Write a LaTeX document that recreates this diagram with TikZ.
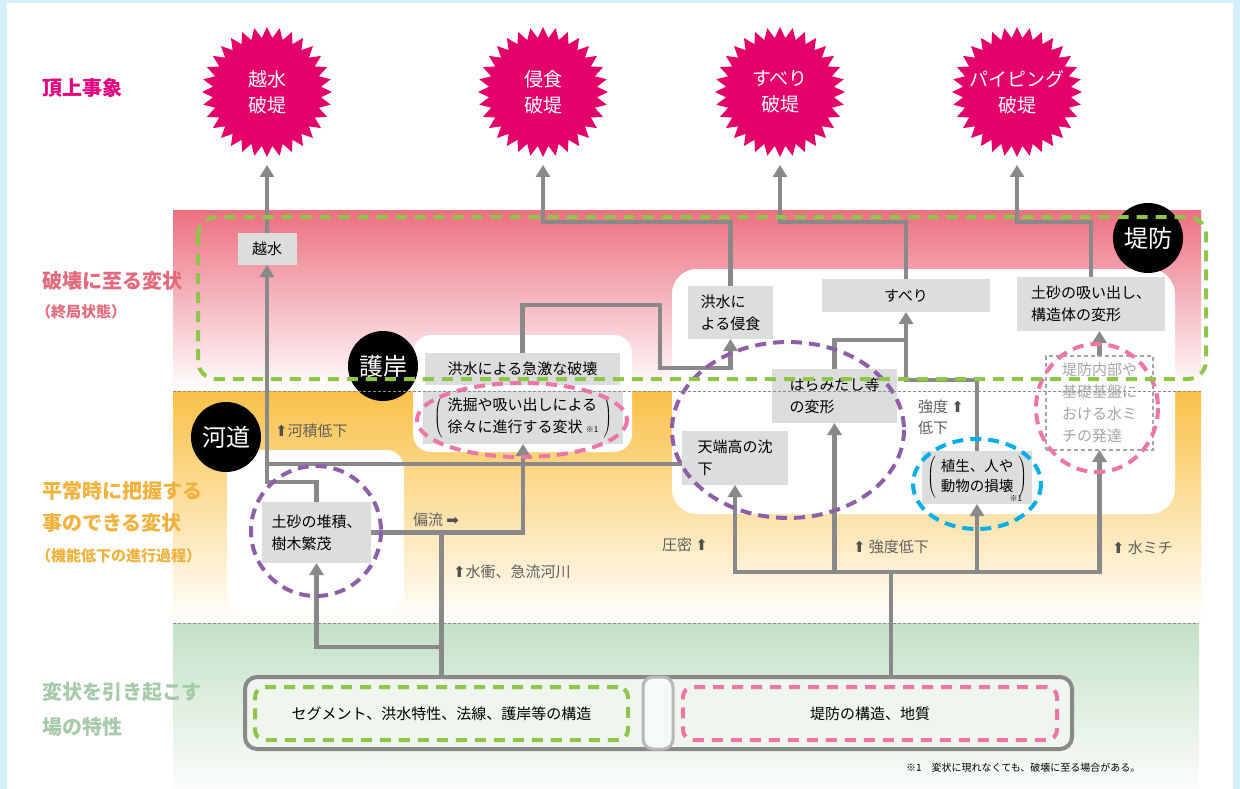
\documentclass[tikz,border=0pt]{standalone}
\usepackage{fontspec}
\setmainfont{Noto Sans CJK JP}
\newfontfamily\symf{DejaVu Sans}
\usetikzlibrary{arrows.meta,shapes.geometric,calc}
\definecolor{bgblue}{RGB}{214,237,250}
\definecolor{starmag}{RGB}{228,0,107}
\definecolor{bandpink}{RGB}{236,112,128}
\definecolor{bandorange}{RGB}{249,193,72}
\definecolor{bandgreen}{RGB}{196,225,199}
\definecolor{boxgray}{RGB}{220,221,221}
\definecolor{conngray}{RGB}{137,137,137}
\definecolor{labgray}{RGB}{95,95,95}
\definecolor{arrgray}{RGB}{80,80,80}
\definecolor{dgreen}{RGB}{141,198,72}
\definecolor{dpink}{RGB}{237,118,166}
\definecolor{dpurple}{RGB}{142,95,168}
\definecolor{dblue}{RGB}{0,174,232}
\definecolor{ttop}{RGB}{228,0,127}
\definecolor{tpink}{RGB}{226,106,124}
\definecolor{torange}{RGB}{240,178,60}
\definecolor{tgreen}{RGB}{166,202,170}
\definecolor{basefill}{RGB}{238,246,238}
\definecolor{mizugray}{RGB}{165,165,165}
\definecolor{midgray}{RGB}{184,184,184}
\definecolor{sepgray}{RGB}{140,140,140}
\newcommand{\myparen}[1]{$\left(\hspace{5pt}\vcenter{\hbox{\begin{tabular}{@{}l@{}}#1\end{tabular}}}\hspace{5pt}\right)$}
\newcommand{\uparr}{{\symf\color{arrgray}⬆}}
\newcommand{\rtarr}{{\symf\color{arrgray}➡}}
\pgfdeclarelayer{bg}
\pgfdeclarelayer{lines}
\pgfsetlayers{bg,lines,main}
\begin{document}
\begin{tikzpicture}[x=1pt,y=-1pt,
  every node/.style={inner sep=0pt, outer sep=0pt},
  boom/.style={star, star points=32, star point ratio=1.2, minimum size=130pt, fill=starmag},
  boomtext/.style={text=white, font=\fontsize{19}{26}\selectfont, align=center},
  gbox/.style={fill=boxgray, font=\fontsize{15}{22}\selectfont, align=left, text=black},
  badge/.style={circle, fill=black, minimum size=70pt, text=white, font=\fontsize{24}{24}\selectfont},
  conn/.style={draw=conngray, line width=4.5pt},
  arr/.style={-{Triangle[width=14pt,length=12pt]}},
  lab/.style={text=labgray, font=\fontsize{15}{21}\selectfont, anchor=west, align=left},
  sidelab/.style={font=\fontsize{20}{24}\selectfont\bfseries, anchor=west},
  sidesmall/.style={font=\fontsize{15}{20}\selectfont\bfseries, anchor=west},
  dashring/.style={line width=4pt, dash pattern=on 11pt off 7pt},
]
\useasboundingbox (0,0) rectangle (1240,789);
\begin{pgfonlayer}{bg}
\fill[bgblue] (0,0) rectangle (1240,789);
\fill[white] (7,3) rectangle (1233,789);
\shade[top color=bandpink, bottom color=white] (173,210) rectangle (1201,391);
\shade[top color=bandorange, bottom color=white] (173,391) rectangle (1201,623);
\shade[top color=bandgreen, bottom color=white!92!bandgreen] (173,623) rectangle (1199,789);
\fill[white, rounded corners=18pt] (227,450) rectangle (404,610);
\fill[white, rounded corners=18pt] (413,335) rectangle (632,452);
\fill[white, rounded corners=25pt] (672,269) rectangle (1175,514);
\end{pgfonlayer}

% left labels
\node[sidelab, text=ttop] (t1) at (42,88) {頂上事象};
\node[sidelab, text=tpink] (t2) at (42,281) {破壊に至る変状};
\node[sidesmall, text=tpink] (t2b) at (36,312) {（終局状態）};
\node[sidelab, text=torange] (t3) at (42,491) {平常時に把握する};
\node[sidelab, text=torange] (t3b) at (42,523) {事のできる変状};
\node[sidesmall, text=torange] (t3c) at (36,556) {（機能低下の進行過程）};
\node[sidelab, text=tgreen] (t4) at (42,692) {変状を引き起こす};
\node[sidelab, text=tgreen] (t4b) at (42,727) {場の特性};

% stars
\node[boom] (s1) at (267,92) {};
\node[boom] (s2) at (543,92) {};
\node[boom] (s3) at (780,92) {};
\node[boom] (s4) at (1017,92) {};
\node[boomtext] (s1t) at (s1.center) {越水\\破堤};
\node[boomtext] (s2t) at (s2.center) {侵食\\破堤};
\node[boomtext] (s3t) at (s3.center) {すべり\\破堤};
\node[boomtext] (s4t) at (s4.center) {パイピング\\破堤};

% boxes
\node[gbox, minimum width=59pt, minimum height=32pt] (ets) at (267,249) {越水};
\node[gbox, minimum width=195pt, minimum height=32pt] (kyu) at (522.5,369) {洪水による急激な破壊};
\node[gbox, minimum width=200pt, minimum height=53pt] (sen) at (523,417.5) {\myparen{洗掘や吸い出しによる\\徐々に進行する変状 {\fontsize{8}{8}\selectfont ※1}}};
\node[gbox, minimum width=109pt, minimum height=61pt] (dosha) at (316.5,532.5) {土砂の堆積、\\樹木繁茂};
\node[gbox, minimum width=85pt, minimum height=53pt] (shin) at (730.5,312.5) {洪水に\\よる侵食};
\node[gbox, minimum width=168pt, minimum height=33pt] (suberi) at (906,295.5) {すべり};
\node[gbox, minimum width=148pt, minimum height=54pt] (suidashi) at (1091,304) {土砂の吸い出し、\\構造体の変形};
\node[gbox, minimum width=125pt, minimum height=54pt] (harami) at (834.5,396) {はらみだし等\\の変形};
\node[gbox, minimum width=106pt, minimum height=54pt] (tenba) at (735,458) {天端高の沈\\下};
\node[gbox, minimum width=110pt, minimum height=53pt, font=\fontsize{14.5}{20}\selectfont] (shoku) at (977,477.5) {\myparen{植生、人や\\動物の損壊}};
\node[font=\fontsize{8}{8}\selectfont, anchor=north east] (shokunote) at (1022,496) {※1};
\node[draw=mizugray, line width=1.2pt, dash pattern=on 4pt off 3pt, fill=white, text=mizugray, font=\fontsize{15}{22}\selectfont, align=left, minimum width=107pt, minimum height=94pt] (mizu) at (1099.5,403) {堤防内部や\\基礎基盤に\\おける水ミ\\チの発達};

% bottom
\node[draw=conngray, line width=4pt, fill=basefill, rounded corners=12pt, minimum width=827pt, minimum height=72pt] (base) at (658.5,713) {};
\node[draw=dgreen, line width=4pt, dash pattern=on 11pt off 8pt, rounded corners=10pt, minimum width=373pt, minimum height=53pt, font=\fontsize{15}{20}\selectfont] (segL) at (441.5,713.5) {セグメント、洪水特性、法線、護岸等の構造};
\node[draw=midgray, line width=3pt, fill=white!50!basefill, rounded corners=10pt, minimum width=30pt, minimum height=72pt] (mid) at (658,713) {};
\node[draw=dpink, line width=4pt, dash pattern=on 11pt off 8pt, rounded corners=10pt, minimum width=374pt, minimum height=53pt, font=\fontsize{15}{20}\selectfont] (segR) at (870,713.5) {堤防の構造、地質};
\node[anchor=west, font=\fontsize{10}{12}\selectfont] (fn) at (906,768) {※1　変状に現れなくても、破壊に至る場合がある。};

% connectors
\coordinate (j1) at (267,482);
\coordinate (j2) at (906,380);
\coordinate (bL) at (segL.north |- base.north);
\coordinate (bR) at (891,677);
\coordinate (hb) at (891,572);
\begin{pgfonlayer}{lines}
\draw[conn,arr] (ets.north) -- ([yshift=-8pt]s1.south);
\draw[conn,arr] (dosha.north) |- (j1) -- (ets.south);
\draw[conn] ([yshift=-6pt]tenba.west) -- ([yshift=-6pt]tenba.west -| ets.south);
\draw[conn,arr] (dosha.east) -| (sen.south);
\draw[conn] (bL) -- (bL |- dosha.east);
\draw[conn,arr] ([yshift=30pt]bL) -| (dosha.south);
\draw[conn,arr] (kyu.north) -- ++(0,-48) -| (660,368) -| (shin.south);
\draw[conn,arr] (shin.north) -- ++(0,-64) -| ([yshift=-8pt]s2.south);
\draw[conn,arr] (suberi.north) -- ++(0,-57) -| ([yshift=-8pt]s3.south);
\draw[conn,arr] (suidashi.north) -- ++(0,-55) -| ([yshift=-8pt]s4.south);
\draw[conn,arr] (shoku.north) |- (j2) -- (suberi.south);
\draw[conn] (harami.north) |- (906,340);
\draw[conn] (bR) -- (hb);
\draw[conn,{Triangle[width=14pt,length=12pt]}-{Triangle[width=14pt,length=12pt]}] (mizu.south) -- (mizu.south |- hb) -- (tenba.south |- hb) -- (tenba.south);
\draw[conn,arr] (harami.south |- hb) -- (harami.south);
\draw[conn,arr] (shoku.south |- hb) -- (shoku.south);
\draw[conn,arr] (mizu.north) -- (mizu.north |- suidashi.south);
\end{pgfonlayer}

% connector labels
\node[lab] (l1) at (275,431) {\uparr 河積低下};
\node[lab] (l2) at (413,520) {偏流 \rtarr};
\node[lab] (l3) at (453,572) {\uparr 水衝、急流河川};
\node[lab] (l4) at (662,545) {圧密 \uparr};
\node[lab] (l5) at (853,547) {\uparr\ 強度低下};
\node[lab] (l6) at (1112,548) {\uparr\ 水ミチ};
\node[lab] (l7) at (918,417) {強度 \uparr\\低下};

% dashed rings
\draw[dpink, dashring] (522,420) ellipse [x radius=105, y radius=37];
\draw[dpurple, dashring] (316,531) circle [radius=65];
\draw[dpurple, dashring] (788,430) ellipse [x radius=116, y radius=88];
\draw[dblue, dashring] (977,484) ellipse [x radius=64, y radius=45];
\draw[dpink, dashring] (1097,408) ellipse [x radius=61, y radius=64];

% badges
\node[badge] (gogan) at (383,366) {護岸};
\node[badge] (kado) at (226,437) {河道};
\node[badge] (teibo) at (1148,238) {堤防};

% green frame and separators
\draw[dgreen, line width=4pt, dash pattern=on 11pt off 8pt, rounded corners=18pt] (198,217) rectangle (1206,379);
\draw[sepgray, line width=0.8pt, dash pattern=on 3pt off 2pt] (173,391) -- (1201,391);
\draw[sepgray, line width=0.8pt, dash pattern=on 3pt off 2pt] (173,623) -- (1199,623);
\end{tikzpicture}
\end{document}
